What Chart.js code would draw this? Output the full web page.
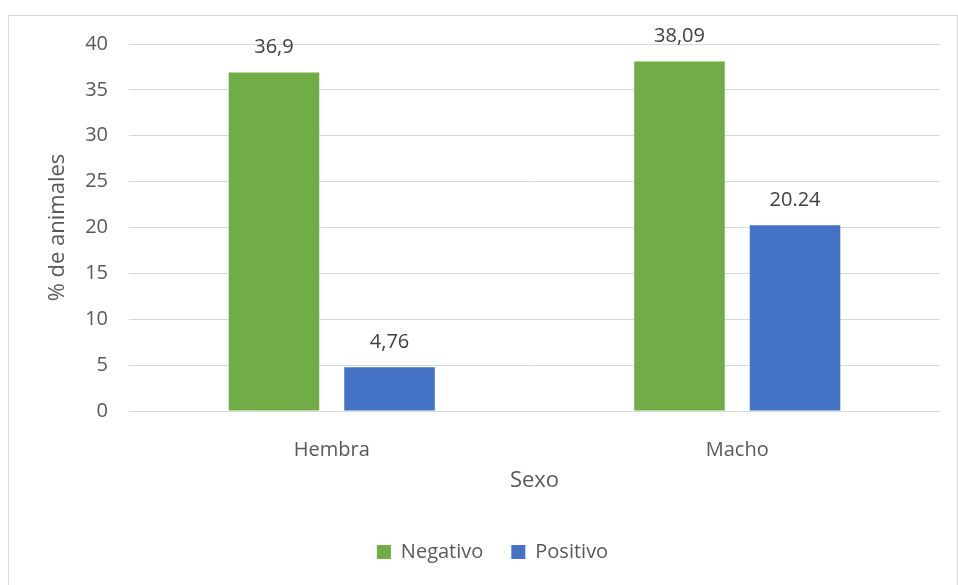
<!DOCTYPE html>
<html>
<head>
<meta charset="utf-8">
<script src="https://cdn.jsdelivr.net/npm/chart.js@4.4.1/dist/chart.umd.min.js"></script>
<style>
    body { margin: 0; background: #fff; }
    #wrap {
        position: absolute;
        left: 8px;
        top: 15px;
        width: 948px;
        height: 570px;
        border: 1px solid #d9d9d9;
        background: #fff;
    }
</style>
</head>
<body>
<div id="wrap"><canvas id="myChart"></canvas></div>
<script>
// datos
const categorias = ['Hembra', 'Macho'];
const negativo = [36.9, 38.09];
const positivo = [4.76, 20.24];
const etiquetasNegativo = ['36,9', '38,09'];
const etiquetasPositivo = ['4,76', '20.24'];
const ticksY = [0, 5, 10, 15, 20, 25, 30, 35, 40];

const textColor = '#595959';
const fontFamily = "'Open Sans', 'DejaVu Sans', sans-serif";

// plugin simple para las etiquetas encima de las barras
const etiquetasPlugin = {
    id: 'etiquetas',
    afterLayout(chart) {
        // mover la leyenda un poco a la derecha, como en el original
        if (chart.legend) {
            chart.legend.left += 18;
            chart.legend.right += 18;
        }
    },
    afterDatasetsDraw(chart) {
        const ctx = chart.ctx;
        ctx.save();
        ctx.font = '20px ' + fontFamily;
        ctx.fillStyle = '#404040';
        ctx.textAlign = 'center';
        ctx.textBaseline = 'middle';
        chart.data.datasets.forEach((ds, i) => {
            const meta = chart.getDatasetMeta(i);
            meta.data.forEach((bar, j) => {
                ctx.fillText(ds.etiquetas[j], bar.x, bar.y - 25);
            });
        });
        ctx.restore();
    }
};

const ctx = document.getElementById('myChart').getContext('2d');
const chart = new Chart(ctx, {
    type: 'bar',
    data: {
        labels: categorias,
        datasets: [
            {
                label: 'Negativo',
                data: negativo,
                etiquetas: etiquetasNegativo,
                backgroundColor: '#70ad47',
                categoryPercentage: 0.57,
                barPercentage: 0.7835
            },
            {
                label: 'Positivo',
                data: positivo,
                etiquetas: etiquetasPositivo,
                backgroundColor: '#4472c4',
                categoryPercentage: 0.57,
                barPercentage: 0.7835
            }
        ]
    },
    options: {
        responsive: true,
        maintainAspectRatio: false,
        animation: false,
        layout: {
            padding: { top: 28, right: 17, bottom: 14, left: 0 }
        },
        scales: {
            x: {
                grid: { display: false },
                border: { display: false },
                ticks: {
                    color: textColor,
                    font: { family: fontFamily, size: 20 },
                    padding: 19,
                    maxRotation: 0
                },
                title: {
                    display: true,
                    text: 'Sexo',
                    color: textColor,
                    font: { family: fontFamily, size: 22 },
                    padding: { top: 0, bottom: 20 }
                },
                afterFit: (scale) => { scale.height = 103; }
            },
            y: {
                min: 0,
                max: 40,
                afterBuildTicks: (scale) => {
                    scale.ticks = ticksY.map(v => ({ value: v }));
                },
                grid: {
                    color: '#d9d9d9',
                    lineWidth: 1,
                    drawTicks: false
                },
                border: { display: false },
                ticks: {
                    color: textColor,
                    font: { family: fontFamily, size: 20 },
                    padding: 21
                },
                title: {
                    display: true,
                    text: '% de animales',
                    color: textColor,
                    font: { family: fontFamily, size: 22 },
                    padding: { top: 36, bottom: 0 }
                },
                afterFit: (scale) => {
                    scale.width = 120;
                    scale.paddingTop = 0;
                    scale.paddingBottom = 0;
                }
            }
        },
        plugins: {
            legend: {
                position: 'bottom',
                labels: {
                    color: textColor,
                    font: { family: fontFamily, size: 20 },
                    boxWidth: 14,
                    boxHeight: 14,
                    padding: 28
                }
            },
            tooltip: { enabled: false }
        }
    },
    plugins: [etiquetasPlugin]
});
</script>
</body>
</html>
